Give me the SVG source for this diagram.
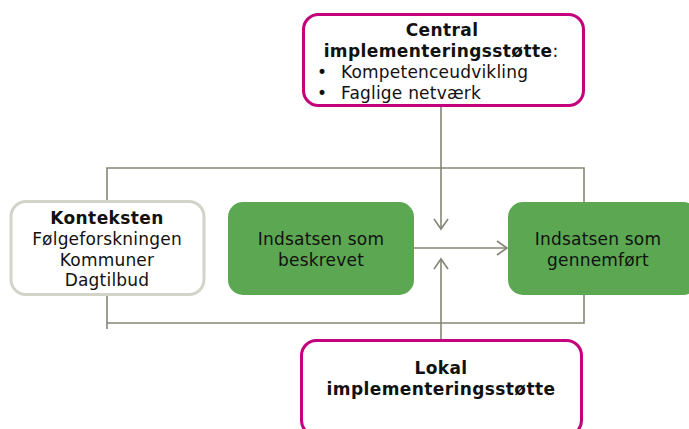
<svg xmlns="http://www.w3.org/2000/svg" width="689" height="429" viewBox="0 0 689 429">
<style>
.t{font-family:"DejaVu Sans","Verdana",sans-serif;font-size:17px;letter-spacing:0.2px;fill:#111;}
.b{font-weight:bold;letter-spacing:0.4px;}
.c{text-anchor:middle;}
.mag{fill:#fff;stroke:#C4007C;stroke-width:3;}
.grn{fill:#5CA751;}
.ln{fill:none;stroke:#858575;stroke-width:1.6;}
</style>
<defs>
<marker id="ah" markerWidth="14" markerHeight="18" refX="12" refY="9" orient="auto" markerUnits="userSpaceOnUse">
<polyline points="2,2 12,9 2,16" fill="none" stroke="#858575" stroke-width="1.6"/>
</marker>
</defs>
<g id="connectors">
<polyline class="ln" points="107,201 107,168 584,168 584,202"/>
<polyline class="ln" points="107,295 107,329"/>
<polyline class="ln" points="107,323 584,323 584,294"/>
<line class="ln" x1="441" y1="106" x2="441" y2="229" marker-end="url(#ah)"/>
<line class="ln" x1="441" y1="340" x2="441" y2="259" marker-end="url(#ah)"/>
<line class="ln" x1="413" y1="248" x2="507" y2="248" marker-end="url(#ah)"/>
</g>
<g id="central">
<rect class="mag" x="303.5" y="14.5" width="280" height="91" rx="15"/>
<text class="t b c" x="442" y="36">Central</text>
<text class="t c" x="441" y="57"><tspan class="b">implementeringsstøtte</tspan>:</text>
<text class="t" x="317" y="78">•</text>
<text class="t" x="341" y="78">Kompetenceudvikling</text>
<text class="t" x="317" y="99">•</text>
<text class="t" x="341" y="99">Faglige netværk</text>
</g>
<g id="kontekst">
<rect x="11" y="201.5" width="193" height="93" rx="15" fill="#fff" stroke="#D3D3CA" stroke-width="3"/>
<text class="t b c" x="107" y="224">Konteksten</text>
<text class="t c" x="107" y="245">Følgeforskningen</text>
<text class="t c" x="107" y="266">Kommuner</text>
<text class="t c" x="107" y="286">Dagtilbud</text>
</g>
<g id="beskrevet">
<rect class="grn" x="228" y="202" width="186" height="93" rx="15"/>
<text class="t c" x="321" y="245">Indsatsen som</text>
<text class="t c" x="321" y="266">beskrevet</text>
</g>
<g id="gennemfoert">
<rect class="grn" x="508" y="202" width="190" height="93" rx="15"/>
<text class="t c" x="598" y="245">Indsatsen som</text>
<text class="t c" x="598" y="266">gennemført</text>
</g>
<g id="lokal">
<rect class="mag" x="301.5" y="340.5" width="280" height="95" rx="15"/>
<text class="t b c" x="441" y="374">Lokal</text>
<text class="t b c" x="441" y="395">implementeringsstøtte</text>
</g>
</svg>
